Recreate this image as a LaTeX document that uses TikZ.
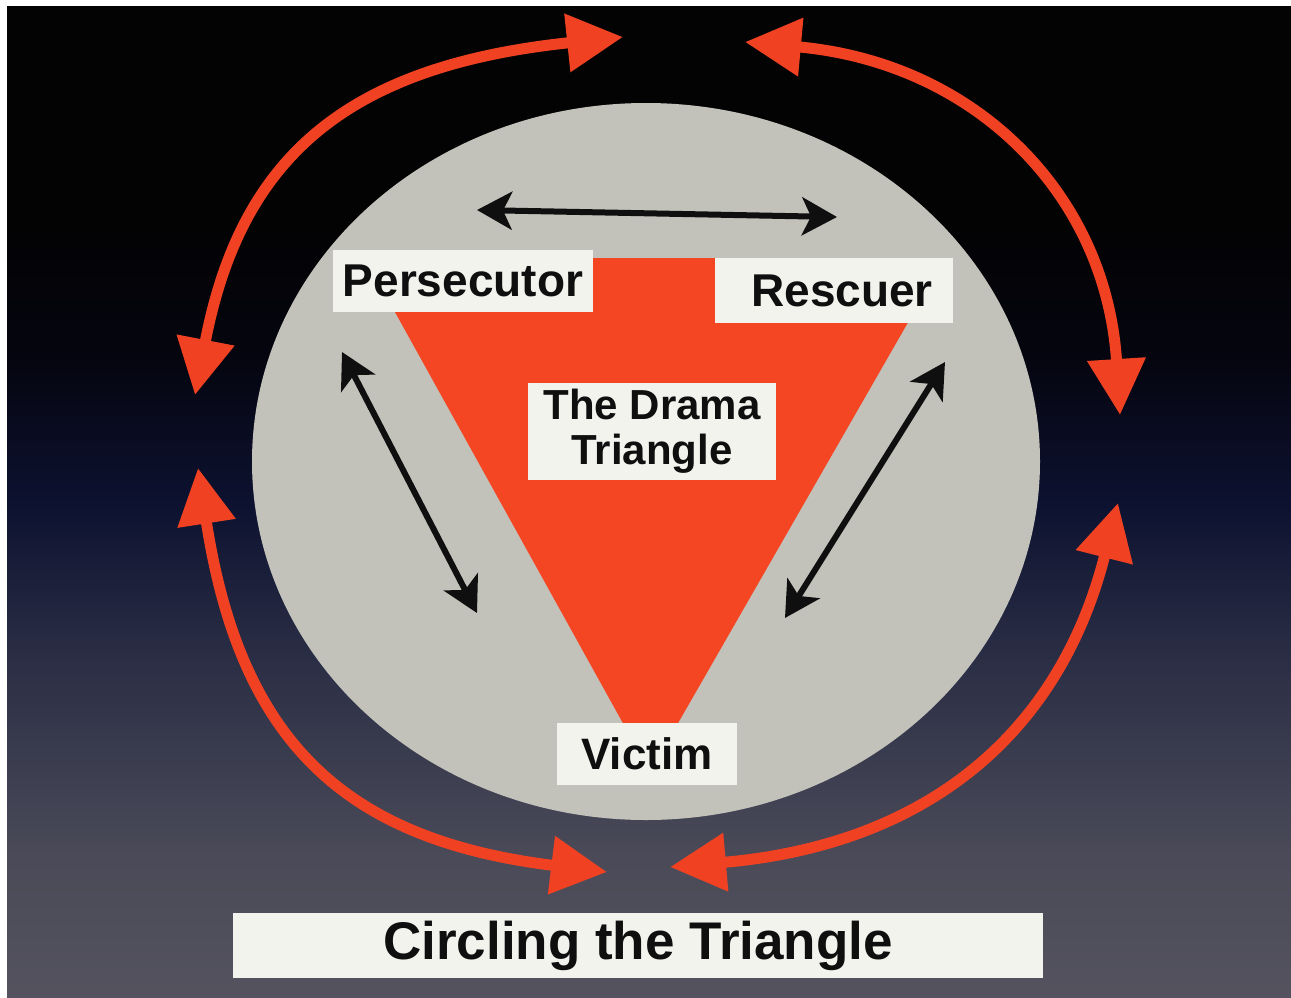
\documentclass[tikz,border=0pt]{standalone}
\usepackage{fontspec}
\setmainfont{Liberation Sans}
\usetikzlibrary{arrows.meta}
\definecolor{redc}{RGB}{240,66,34}
\definecolor{trired}{RGB}{245,70,36}
\definecolor{discgray}{RGB}{194,194,187}
\definecolor{labelbg}{RGB}{243,243,238}
\definecolor{inkc}{RGB}{15,15,15}
\pgfdeclareverticalshading{bgshade}{100bp}{rgb(0bp)=(0.33,0.325,0.37); rgb(25bp)=(0.33,0.325,0.37); rgb(32.5bp)=(0.29,0.29,0.345); rgb(42.5bp)=(0.165,0.18,0.27); rgb(50bp)=(0.05,0.07,0.19); rgb(57.5bp)=(0.02,0.02,0.06); rgb(65bp)=(0.01,0.01,0.01); rgb(75bp)=(0.01,0.01,0.01); rgb(100bp)=(0.01,0.01,0.01)}
\tikzset{
  labelbox/.style={fill=labelbg, text=inkc, font=\bfseries\fontsize{46}{50}\selectfont, inner sep=0pt, align=center},
  redarc/.style={draw=redc, line width=11pt, {Triangle[length=56pt,width=56pt]}-{Triangle[length=56pt,width=56pt]}},
  blackarrow/.style={draw=inkc, line width=6pt, {Stealth[length=35pt,width=38pt,inset=9pt]}-{Stealth[length=35pt,width=38pt,inset=9pt]}}
}
\begin{document}
\begin{tikzpicture}[x=1pt,y=-1pt]
\useasboundingbox (0,0) rectangle (1291,997);
\fill[white] (0,0) rectangle (1291,997);
\shade[shading=bgshade] (7,6) rectangle (1300,1006);
% disc
\fill[discgray] (646,461.5) ellipse [x radius=394, y radius=358.5];
% triangle
\fill[trired] (365,258) -- (945,258) -- (650,772) -- cycle;
% labels
\node[labelbox, minimum width=260pt, minimum height=62pt] (pers) at (463,281) {Persecutor};
\node[labelbox, minimum width=238pt, minimum height=65pt] (resc) at (834,290.5) {\hspace*{16pt}Rescuer};
\node[labelbox, minimum width=248pt, minimum height=97pt, font=\bfseries\fontsize{42}{45}\selectfont] (drama) at (652,431.5) {The Drama\\Triangle};
\node[labelbox, minimum width=180pt, minimum height=62pt, font=\bfseries\fontsize{44}{48}\selectfont] (vict) at (647,754) {Victim};
\node[labelbox, minimum width=810pt, minimum height=65pt, font=\bfseries\fontsize{53}{58}\selectfont] (title) at (638,945.5) {Circling the Triangle};
% black arrows
\coordinate (bt1) at (477,210);
\coordinate (bt2) at (837,217);
\coordinate (bl1) at (342,352);
\coordinate (bl2) at (477,613);
\coordinate (br1) at (945,362);
\coordinate (br2) at (785,618);
\draw[blackarrow] (bt1) -- (bt2);
\draw[blackarrow] (bl1) -- (bl2);
\draw[blackarrow] (br1) -- (br2);
% red arcs
\coordinate (a1) at (623,37);
\coordinate (a2) at (195,395);
\coordinate (b1) at (745,42);
\coordinate (b2) at (1120,415);
\coordinate (c1) at (198,468);
\coordinate (c2) at (607,872);
\coordinate (d1) at (1118,503);
\coordinate (d2) at (670,867);
\draw[redarc] (a2) .. controls (241,156) and (348,66) .. (a1);
\draw[redarc] (b1) .. controls (975,63) and (1106,194) .. (b2);
\draw[redarc] (c1) .. controls (240,739) and (342,839.5) .. (c2);
\draw[redarc] (d1) .. controls (1059,736) and (924,845) .. (d2);
\end{tikzpicture}
\end{document}
